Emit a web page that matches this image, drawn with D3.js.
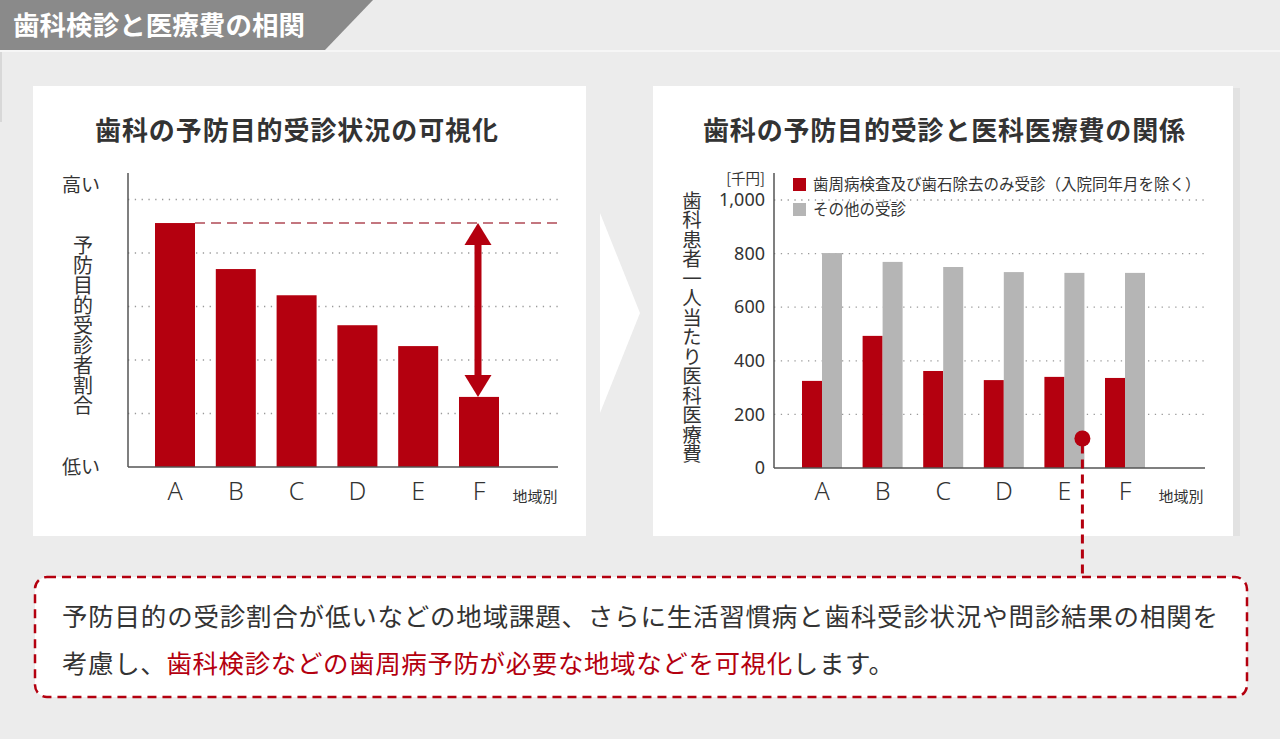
<!DOCTYPE html>
<html>
<head>
<meta charset="utf-8">
<script src="https://cdn.jsdelivr.net/npm/d3@7"></script>
<style>
  body { margin: 0; background: #ececec; }
  svg { display: block; font-family: "Noto Sans CJK JP", "Noto Sans", sans-serif; }
  .vert { writing-mode: vertical-rl; text-orientation: upright; }
</style>
</head>
<body>
<div id="chart"></div>
<script>
// data
var regions = ["A", "B", "C", "D", "E", "F"];
var preventRate = [4.56, 3.70, 3.21, 2.65, 2.26, 1.31]; // relative, no units on axis
var perioOnly = [325, 493, 362, 328, 340, 336];   // 千円
var otherVisit = [802, 769, 750, 731, 728, 728];  // 千円
var costTicks = [0, 200, 400, 600, 800, 1000];
var seriesNames = ["歯周病検査及び歯石除去のみ受診（入院同年月を除く）", "その他の受診"];

var red = "#b4000f", gray = "#b5b5b5", ink = "#333";

var svg = d3.select("#chart").append("svg")
  .attr("width", 1280)
  .attr("height", 739);

svg.append("rect").attr("width", 1280).attr("height", 739).attr("fill", "#ececec");

// title tab
svg.append("rect").attr("x", 0).attr("y", 50).attr("width", 1280).attr("height", 2).attr("fill", "#f6f6f6");
svg.append("rect").attr("x", 0).attr("y", 52).attr("width", 2).attr("height", 70).attr("fill", "#d8d8d8");
svg.append("path")
  .attr("d", "M0,0 L373,0 L325,50 L0,50 Z")
  .attr("fill", "#8a8a8a");
svg.append("text")
  .attr("x", 13).attr("y", 35)
  .attr("fill", "#fff")
  .attr("font-size", 26.5).attr("font-weight", "bold")
  .attr("textLength", 292).attr("lengthAdjust", "spacing")
  .text("歯科検診と医療費の相関");

// panels
svg.append("rect").attr("x", 33).attr("y", 86).attr("width", 553).attr("height", 450).attr("fill", "#fff");
svg.append("rect").attr("x", 1233).attr("y", 88).attr("width", 7).attr("height", 448).attr("fill", "#e2e2e2");
svg.append("rect").attr("x", 653).attr("y", 86).attr("width", 580).attr("height", 450).attr("fill", "#fff");

// chevron between panels
svg.append("path")
  .attr("d", "M600,213 L640,313 L600,413 Z")
  .attr("fill", "#fff");

// ---------- left chart ----------
var xL = d3.scaleBand().domain(regions).range([155, 499]).paddingInner(0.342).paddingOuter(0);
var yL = d3.scaleLinear().domain([0, 5]).range([467, 199.5]);

svg.append("text")
  .attr("x", 95).attr("y", 140)
  .attr("font-size", 26).attr("font-weight", "bold").attr("fill", ink)
  .attr("textLength", 403).attr("lengthAdjust", "spacing")
  .text("歯科の予防目的受診状況の可視化");

var gL = svg.append("g");
gL.selectAll(".grid")
  .data([1, 2, 3, 4, 5])
  .enter().append("line")
  .attr("x1", 128).attr("x2", 558)
  .attr("y1", function (d) { return yL(d); })
  .attr("y2", function (d) { return yL(d); })
  .attr("stroke", "#999").attr("stroke-width", 1.3)
  .attr("stroke-dasharray", "1.3,5.5");

gL.selectAll(".bar")
  .data(preventRate)
  .enter().append("rect")
  .attr("x", function (d, i) { return xL(regions[i]); })
  .attr("y", function (d) { return yL(d); })
  .attr("width", xL.bandwidth())
  .attr("height", function (d) { return yL(0) - yL(d); })
  .attr("fill", red);

// axes
gL.append("line").attr("x1", 128).attr("x2", 128).attr("y1", 173).attr("y2", yL(0))
  .attr("stroke", "#555").attr("stroke-width", 1.5);
gL.append("line").attr("x1", 128).attr("x2", 558).attr("y1", yL(0)).attr("y2", yL(0))
  .attr("stroke", "#555").attr("stroke-width", 1.5);

gL.selectAll(".xl")
  .data(regions)
  .enter().append("text")
  .attr("x", function (d) { return xL(d) + xL.bandwidth() / 2; })
  .attr("y", 500)
  .attr("text-anchor", "middle")
  .attr("font-family", "Noto Sans, sans-serif")
  .attr("font-weight", 300)
  .attr("font-size", 25).attr("fill", ink)
  .text(function (d) { return d; });
gL.append("text").attr("x", 535).attr("y", 502).attr("text-anchor", "middle")
  .attr("font-size", 15).attr("fill", ink).text("地域別");

gL.append("text").attr("x", 81).attr("y", 192).attr("text-anchor", "middle")
  .attr("font-size", 19).attr("fill", ink).text("高い");
gL.append("text").attr("x", 81).attr("y", 474).attr("text-anchor", "middle")
  .attr("font-size", 19).attr("fill", ink).text("低い");

gL.append("text")
  .attr("class", "vert")
  .attr("x", 83).attr("y", 325)
  .attr("text-anchor", "middle")
  .attr("font-size", 20).attr("fill", ink)
  .text("予防目的受診者割合");

// dashed reference line from top of A
var topA = yL(preventRate[0]);
gL.append("line")
  .attr("x1", xL("A") + xL.bandwidth()).attr("x2", 558)
  .attr("y1", topA).attr("y2", topA)
  .attr("stroke", "#b04a55").attr("stroke-width", 1.5)
  .attr("stroke-dasharray", "10,6");

// double arrow between A level and F
var ax = xL("F") + xL.bandwidth() / 2 - 1;
var topF = yL(preventRate[5]);
gL.append("rect").attr("x", ax - 3.5).attr("y", topA + 18).attr("width", 7).attr("height", topF - topA - 36).attr("fill", red);
gL.append("path")
  .attr("d", "M" + ax + "," + topA + " l13.5,22 l-27,0 Z")
  .attr("fill", red);
gL.append("path")
  .attr("d", "M" + ax + "," + topF + " l13.5,-22 l-27,0 Z")
  .attr("fill", red);

// ---------- right chart ----------
var xR = d3.scaleBand().domain(regions).range([802, 1145]).paddingInner(0.34).paddingOuter(0);
var xSub = d3.scaleBand().domain([0, 1]).range([0, xR.bandwidth()]);
var yR = d3.scaleLinear().domain([0, 1000]).range([468, 200]);

svg.append("text")
  .attr("x", 703).attr("y", 140)
  .attr("font-size", 26).attr("font-weight", "bold").attr("fill", ink)
  .attr("textLength", 482).attr("lengthAdjust", "spacing")
  .text("歯科の予防目的受診と医科医療費の関係");

var gR = svg.append("g");
gR.selectAll(".grid")
  .data(costTicks.slice(1))
  .enter().append("line")
  .attr("x1", 774).attr("x2", 1207)
  .attr("y1", function (d) { return yR(d); })
  .attr("y2", function (d) { return yR(d); })
  .attr("stroke", "#999").attr("stroke-width", 1.3)
  .attr("stroke-dasharray", "1.3,5.5");

var yAxis = d3.axisLeft(yR).tickValues(costTicks).tickSize(0).tickPadding(9).tickFormat(d3.format(","));
var ya = gR.append("g").attr("transform", "translate(774,0)").call(yAxis);
ya.select(".domain").remove();
ya.selectAll("text")
  .attr("font-family", "Noto Sans, sans-serif")
  .attr("font-size", 18).attr("fill", ink);

gR.append("text").attr("x", 765).attr("y", 184).attr("text-anchor", "end")
  .attr("font-size", 14.5).attr("fill", ink).text("[千円]");

regions.forEach(function (r, i) {
  var vals = [perioOnly[i], otherVisit[i]];
  gR.selectAll(".b" + i)
    .data(vals)
    .enter().append("rect")
    .attr("x", function (d, j) { return xR(r) + xSub(j); })
    .attr("y", function (d) { return yR(d); })
    .attr("width", xSub.bandwidth())
    .attr("height", function (d) { return yR(0) - yR(d); })
    .attr("fill", function (d, j) { return j === 0 ? red : gray; });
});

gR.append("line").attr("x1", 774).attr("x2", 774).attr("y1", 173).attr("y2", yR(0))
  .attr("stroke", "#555").attr("stroke-width", 1.5);
gR.append("line").attr("x1", 774).attr("x2", 1205).attr("y1", yR(0)).attr("y2", yR(0))
  .attr("stroke", "#555").attr("stroke-width", 1.5);

gR.selectAll(".xl")
  .data(regions)
  .enter().append("text")
  .attr("x", function (d) { return xR(d) + xR.bandwidth() / 2; })
  .attr("y", 500)
  .attr("text-anchor", "middle")
  .attr("font-family", "Noto Sans, sans-serif")
  .attr("font-weight", 300)
  .attr("font-size", 25).attr("fill", ink)
  .text(function (d) { return d; });
gR.append("text").attr("x", 1181).attr("y", 502).attr("text-anchor", "middle")
  .attr("font-size", 15).attr("fill", ink).text("地域別");

// legend
var lg = gR.selectAll(".lg")
  .data(seriesNames)
  .enter().append("g")
  .attr("transform", function (d, i) { return "translate(793," + (178 + i * 25) + ")"; });
lg.append("rect").attr("width", 13).attr("height", 13)
  .attr("fill", function (d, i) { return i === 0 ? red : gray; });
lg.append("text").attr("x", 20).attr("y", 12)
  .attr("font-size", 15.5).attr("fill", ink)
  .text(function (d) { return d; });

gR.append("text")
  .attr("class", "vert")
  .attr("x", 692).attr("y", 327)
  .attr("text-anchor", "middle")
  .attr("font-size", 19.5).attr("fill", ink)
  .text("歯科患者一人当たり医科医療費");

// callout marker and connector
var dotX = xR("E") + xR.bandwidth() - 2;
var dotY = yR(110);
svg.append("line")
  .attr("x1", dotX).attr("x2", dotX)
  .attr("y1", dotY + 6).attr("y2", 577)
  .attr("stroke", red).attr("stroke-width", 3)
  .attr("stroke-dasharray", "9,6");
svg.append("circle").attr("cx", dotX).attr("cy", dotY).attr("r", 8).attr("fill", red);

// ---------- bottom note ----------
svg.append("rect")
  .attr("x", 35).attr("y", 577).attr("width", 1212).attr("height", 120)
  .attr("rx", 12).attr("ry", 12)
  .attr("fill", "#fff")
  .attr("stroke", red).attr("stroke-width", 2.5)
  .attr("stroke-dasharray", "9,6");

svg.append("text")
  .attr("x", 62).attr("y", 626)
  .attr("font-size", 25.5).attr("fill", ink)
  .attr("textLength", 1156).attr("lengthAdjust", "spacing")
  .text("予防目的の受診割合が低いなどの地域課題、さらに生活習慣病と歯科受診状況や問診結果の相関を");

var line2 = svg.append("text")
  .attr("x", 62).attr("y", 673)
  .attr("font-size", 25.5).attr("fill", ink)
  .attr("letter-spacing", 0.6);
line2.append("tspan").text("考慮し、");
line2.append("tspan").attr("fill", red).text("歯科検診などの歯周病予防が必要な地域などを可視化");
line2.append("tspan").text("します。");
</script>
</body>
</html>
